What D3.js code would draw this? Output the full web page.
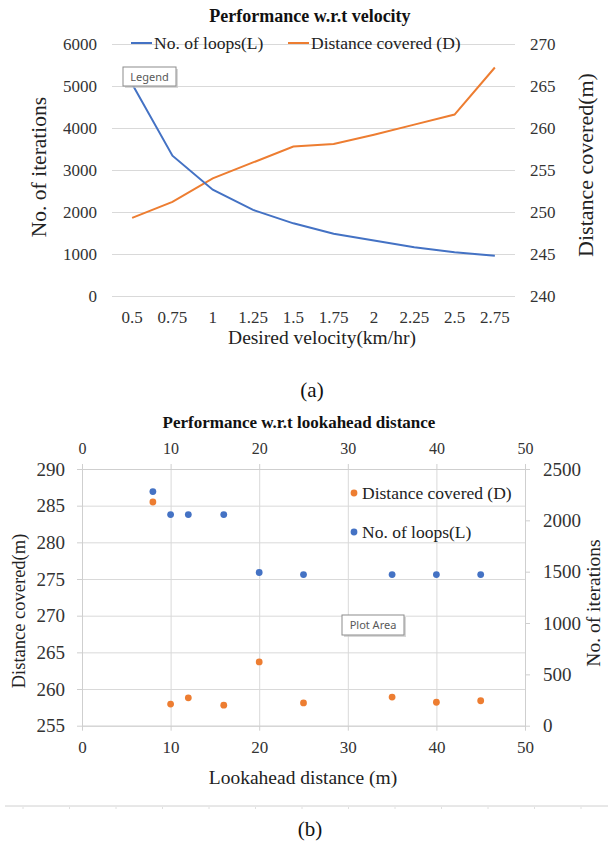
<!DOCTYPE html>
<html>
<head>
<meta charset="utf-8">
<script src="https://cdnjs.cloudflare.com/ajax/libs/d3/7.8.5/d3.min.js"></script>
<style>
  body { margin: 0; background: #fff; }
  svg text { font-family: "Liberation Serif", "Times New Roman", serif; }
</style>
</head>
<body>
<div id="chart"></div>
<script>
// (a) performance w.r.t velocity
var velocity = ["0.5", "0.75", "1", "1.25", "1.5", "1.75", "2", "2.25", "2.5", "2.75"];
var loopsByVelocity = [5050, 3340, 2530, 2050, 1730, 1480, 1320, 1160, 1040, 960];
var distByVelocity = [249.3, 251.2, 254.0, 255.9, 257.8, 258.1, 259.2, 260.4, 261.6, 267.2];
var iterTicksA = [0, 1000, 2000, 3000, 4000, 5000, 6000];
var distTicksA = [240, 245, 250, 255, 260, 265, 270];

// (b) performance w.r.t lookahead distance
var lookahead = [8, 10, 12, 16, 20, 25, 35, 40, 45];
var distByLookahead = [285.5, 257.95, 258.8, 257.8, 263.7, 258.1, 258.9, 258.2, 258.4];
var loopsByLookahead = [2280, 2056, 2056, 2056, 1492, 1472, 1472, 1472, 1472];
var lookTicks = [0, 10, 20, 30, 40, 50];
var distTicksB = [255, 260, 265, 270, 275, 280, 285, 290];
var iterTicksB = [0, 500, 1000, 1500, 2000, 2500];

var blue = "#4472c4", orange = "#ed7d31", grid = "#d9d9d9", tickCol = "#333";
var serif = "'Liberation Serif', 'Times New Roman', serif";
var plain = d3.format("d");

var svg = d3.select("#chart").append("svg")
  .attr("width", 608)
  .attr("height", 843);

svg.append("rect").attr("width", 608).attr("height", 843).attr("fill", "#fff");

// ---------- chart (a) ----------
var a = {left: 112, right: 515, top: 44, bottom: 296};

var xA = d3.scaleBand().domain(velocity).range([a.left, a.right]);
var yA = d3.scaleLinear().domain([0, 6000]).range([a.bottom, a.top]);
var yA2 = d3.scaleLinear().domain([240, 270]).range([a.bottom, a.top]);

// gridlines
svg.append("g")
  .attr("transform", "translate(" + a.left + ",0)")
  .call(d3.axisLeft(yA).tickValues(iterTicksA).tickSize(-(a.right - a.left)).tickFormat(""))
  .call(function(g) { g.select(".domain").remove(); })
  .selectAll("line").attr("stroke", grid);

svg.append("text")
  .attr("x", 310).attr("y", 22)
  .attr("text-anchor", "middle")
  .attr("font-size", 18).attr("font-weight", "bold").attr("fill", "#111")
  .text("Performance w.r.t velocity");

var axA = svg.append("g")
  .attr("transform", "translate(" + a.left + ",0)")
  .call(d3.axisLeft(yA).tickValues(iterTicksA).tickFormat(plain).tickSize(0).tickPadding(15));
var axA2 = svg.append("g")
  .attr("transform", "translate(" + a.right + ",0)")
  .call(d3.axisRight(yA2).tickValues(distTicksA).tickFormat(plain).tickSize(0).tickPadding(15));
var axAx = svg.append("g")
  .attr("transform", "translate(0," + a.bottom + ")")
  .call(d3.axisBottom(xA).tickSize(0).tickPadding(15));
[axA, axA2, axAx].forEach(function(g) {
  g.attr("font-family", null);
  g.select(".domain").remove();
  g.selectAll("text").attr("font-size", 17).attr("fill", tickCol).style("font-family", serif);
});

var lineLoops = d3.line()
  .x(function(d, i) { return xA(velocity[i]) + xA.bandwidth() / 2; })
  .y(function(d) { return yA(d); });
var lineDist = d3.line()
  .x(function(d, i) { return xA(velocity[i]) + xA.bandwidth() / 2; })
  .y(function(d) { return yA2(d); });

svg.append("path").datum(distByVelocity)
  .attr("d", lineDist).attr("fill", "none")
  .attr("stroke", orange).attr("stroke-width", 2);
svg.append("path").datum(loopsByVelocity)
  .attr("d", lineLoops).attr("fill", "none")
  .attr("stroke", blue).attr("stroke-width", 2);

// legend
var legA = [{name: "No. of loops(L)", color: blue, x: 131}, {name: "Distance covered (D)", color: orange, x: 288}];
legA.forEach(function(d) {
  svg.append("line").attr("x1", d.x).attr("x2", d.x + 21).attr("y1", 43).attr("y2", 43)
    .attr("stroke", d.color).attr("stroke-width", 2);
  svg.append("text").attr("x", d.x + 23).attr("y", 49)
    .attr("font-size", 17.5).attr("fill", "#222").text(d.name);
});

// axis titles
svg.append("text")
  .attr("transform", "translate(46,167) rotate(-90)")
  .attr("text-anchor", "middle").attr("font-size", 21.5).attr("fill", "#222")
  .text("No. of iterations");
svg.append("text")
  .attr("transform", "translate(593,165) rotate(-90)")
  .attr("text-anchor", "middle").attr("font-size", 22).attr("fill", "#222")
  .text("Distance covered(m)");
svg.append("text")
  .attr("x", 322).attr("y", 344)
  .attr("text-anchor", "middle").attr("font-size", 19.5).attr("fill", "#222")
  .text("Desired velocity(km/hr)");
svg.append("text")
  .attr("x", 312).attr("y", 397)
  .attr("text-anchor", "middle").attr("font-size", 21).attr("fill", "#111")
  .text("(a)");

// ---------- chart (b) ----------
var b = {left: 82, right: 525, top: 469, bottom: 725.7};

var xB = d3.scaleLinear().domain([0, 50]).range([b.left, b.right]);
var yB = d3.scaleLinear().domain([255, 290]).range([b.bottom, b.top]);
var yB2 = d3.scaleLinear().domain([0, 2500]).range([b.bottom, b.top]);

svg.append("g")
  .attr("transform", "translate(" + b.left + ",0)")
  .call(d3.axisLeft(yB).tickValues(distTicksB).tickSize(-(b.right - b.left)).tickFormat(""))
  .call(function(g) { g.select(".domain").remove(); })
  .selectAll("line").attr("stroke", grid);
svg.append("g")
  .attr("transform", "translate(0," + b.bottom + ")")
  .call(d3.axisBottom(xB).tickValues(lookTicks).tickSize(-(b.bottom - b.top)).tickFormat(""))
  .call(function(g) { g.select(".domain").remove(); })
  .selectAll("line").attr("stroke", grid);

svg.append("text")
  .attr("x", 299).attr("y", 428)
  .attr("text-anchor", "middle")
  .attr("font-size", 17).attr("font-weight", "bold").attr("fill", "#111")
  .text("Performance w.r.t lookahead distance");

var bTop = svg.append("g").attr("transform", "translate(0," + b.top + ")")
  .call(d3.axisTop(xB).tickValues(lookTicks).tickFormat(plain).tickSize(5).tickSizeOuter(0).tickPadding(10));
var bBot = svg.append("g").attr("transform", "translate(0," + b.bottom + ")")
  .call(d3.axisBottom(xB).tickValues(lookTicks).tickFormat(plain).tickSize(5).tickSizeOuter(0).tickPadding(10));
var bLeft = svg.append("g").attr("transform", "translate(" + b.left + ",0)")
  .call(d3.axisLeft(yB).tickValues(distTicksB).tickFormat(plain).tickSize(5).tickSizeOuter(0).tickPadding(12));
var bRight = svg.append("g").attr("transform", "translate(" + b.right + ",0)")
  .call(d3.axisRight(yB2).tickValues(iterTicksB).tickFormat(plain).tickSize(5).tickSizeOuter(0).tickPadding(13));
[bTop, bBot, bLeft, bRight].forEach(function(g) {
  g.attr("font-family", null);
  g.select(".domain").attr("stroke", "#cfcfcf");
  g.selectAll("line").attr("stroke", "#cfcfcf");
  g.selectAll("text").attr("fill", tickCol).style("font-family", serif);
});
bTop.selectAll("text").attr("font-size", 16);
bBot.selectAll("text").attr("font-size", 17);
bLeft.selectAll("text").attr("font-size", 19);
bRight.selectAll("text").attr("font-size", 19);

svg.append("g").selectAll("circle")
  .data(lookahead).enter().append("circle")
  .attr("cx", function(d) { return xB(d); })
  .attr("cy", function(d, i) { return yB(distByLookahead[i]); })
  .attr("r", 3.4).attr("fill", orange);
svg.append("g").selectAll("circle")
  .data(lookahead).enter().append("circle")
  .attr("cx", function(d) { return xB(d); })
  .attr("cy", function(d, i) { return yB2(loopsByLookahead[i]); })
  .attr("r", 3.4).attr("fill", blue);

// legend
var legB = [{name: "Distance covered (D)", color: orange, y: 493}, {name: "No. of loops(L)", color: blue, y: 532}];
legB.forEach(function(d) {
  svg.append("circle").attr("cx", 354).attr("cy", d.y).attr("r", 3.4).attr("fill", d.color);
  svg.append("text").attr("x", 362).attr("y", d.y + 6)
    .attr("font-size", 17.5).attr("fill", "#222").text(d.name);
});

svg.append("text")
  .attr("transform", "translate(25,611) rotate(-90)")
  .attr("text-anchor", "middle").attr("font-size", 18.5).attr("fill", "#222")
  .text("Distance covered(m)");
svg.append("text")
  .attr("transform", "translate(600,603) rotate(-90)")
  .attr("text-anchor", "middle").attr("font-size", 19.5).attr("fill", "#222")
  .text("No. of iterations");
svg.append("text")
  .attr("x", 303).attr("y", 784)
  .attr("text-anchor", "middle").attr("font-size", 19.5).attr("fill", "#222")
  .text("Lookahead distance (m)");

// separator + caption
svg.append("line").attr("x1", 5).attr("x2", 608).attr("y1", 806).attr("y2", 806)
  .attr("stroke", "#d0d0d0");
d3.range(23, 608, 46.5).forEach(function(x) {
  svg.append("line").attr("x1", x).attr("x2", x).attr("y1", 807).attr("y2", 809)
    .attr("stroke", "#e0e0e0");
});
svg.append("text")
  .attr("x", 310).attr("y", 836)
  .attr("text-anchor", "middle").attr("font-size", 21).attr("fill", "#111")
  .text("(b)");

// excel hover tips caught in the screenshot
function tip(x, y, w, h, label) {
  svg.append("rect").attr("x", x + 2).attr("y", y + 2).attr("width", w).attr("height", h)
    .attr("fill", "#c8c8c8").attr("opacity", 0.7);
  svg.append("rect").attr("x", x).attr("y", y).attr("width", w).attr("height", h)
    .attr("fill", "#fff").attr("stroke", "#8c8c8c");
  svg.append("text").attr("x", x + w / 2).attr("y", y + h / 2 + 4)
    .attr("text-anchor", "middle").attr("font-size", 11)
    .style("font-family", "'Noto Sans', sans-serif")
    .attr("fill", "#595959").text(label);
}
tip(123, 67, 53, 19, "Legend");
tip(342, 615, 62, 20, "Plot Area");
</script>
</body>
</html>
